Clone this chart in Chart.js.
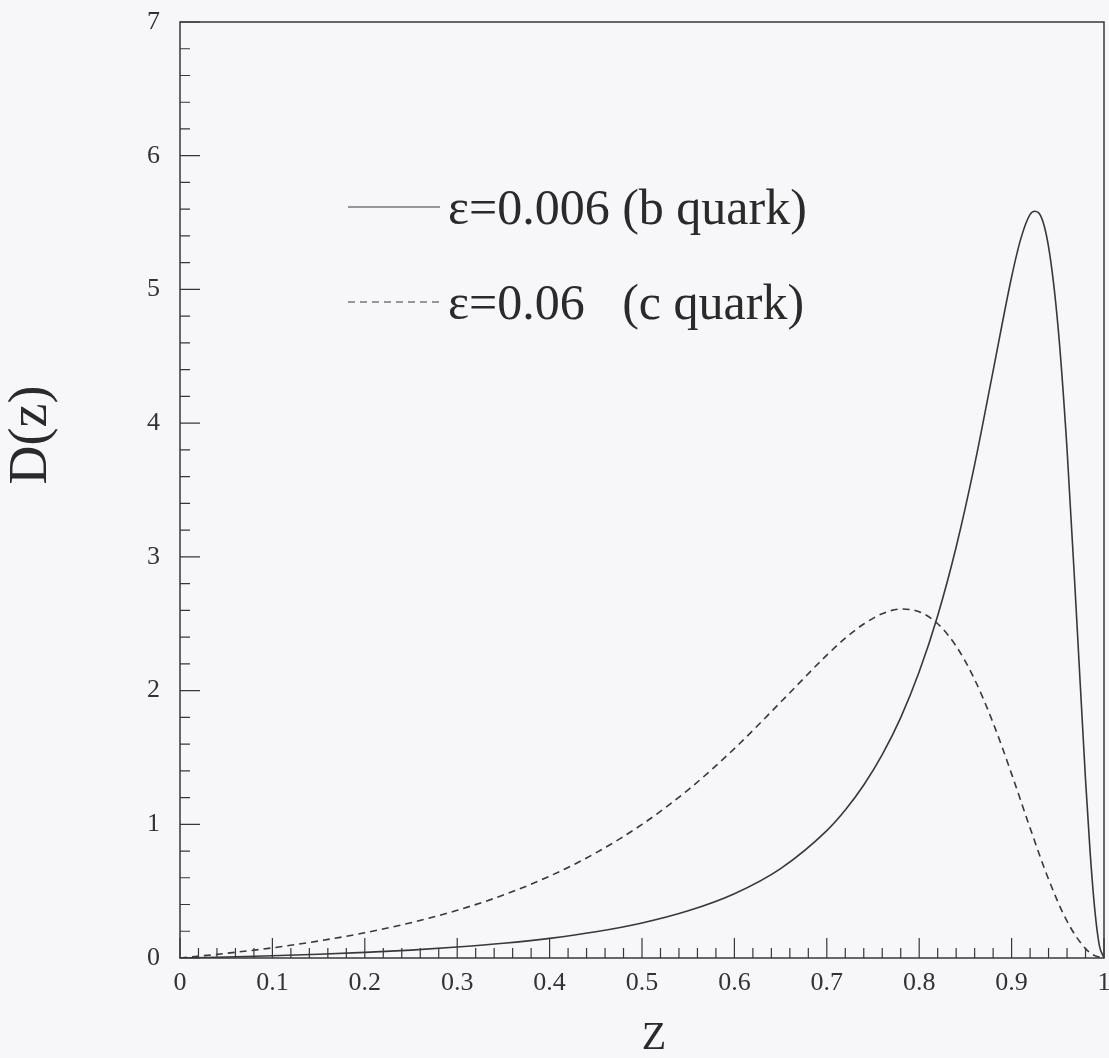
<!DOCTYPE html>
<html lang="en">
<head>
    <meta charset="UTF-8">
    <title>D(z)</title>
    <script src="https://cdn.jsdelivr.net/npm/chart.js"></script>
    <style>
        body {
            margin: 0;
            background-color: #f7f7f9;
        }
        #chart-container {
            width: 1109px;
            height: 1058px;
            position: relative;
        }
    </style>
</head>
<body>
<div id="chart-container">
    <canvas id="dzChart"></canvas>
</div>
<script>
    // b quark, eps = 0.006
    var zB = [0, 0.05, 0.1, 0.15, 0.2, 0.25, 0.3, 0.35, 0.4, 0.45, 0.5, 0.55, 0.6, 0.65, 0.7, 0.72, 0.74, 0.76, 0.78, 0.8,
        0.82, 0.84, 0.86, 0.88, 0.9, 0.91, 0.92, 0.925, 0.93, 0.94, 0.95, 0.96, 0.97, 0.98, 0.985, 0.99, 0.995, 1];
    var dB = [0, 0.007, 0.017, 0.028, 0.042, 0.059, 0.082, 0.110, 0.147, 0.196, 0.262, 0.353, 0.481, 0.669, 0.953, 1.107, 1.294, 1.521, 1.798, 2.140,
        2.560, 3.074, 3.690, 4.391, 5.093, 5.380, 5.561, 5.585, 5.568, 5.319, 4.740, 3.805, 2.594, 1.334, 0.790, 0.364, 0.093, 0];

    // c quark, eps = 0.06
    var zC = [0, 0.05, 0.1, 0.15, 0.2, 0.25, 0.3, 0.35, 0.4, 0.45, 0.5, 0.55, 0.6, 0.65, 0.7, 0.72, 0.74, 0.76, 0.78, 0.8,
        0.82, 0.84, 0.86, 0.88, 0.9, 0.92, 0.94, 0.96, 0.98, 0.99, 1];
    var dC = [0, 0.035, 0.076, 0.127, 0.189, 0.264, 0.357, 0.471, 0.612, 0.786, 0.999, 1.258, 1.566, 1.913, 2.265, 2.392, 2.498, 2.575, 2.610, 2.589,
        2.500, 2.332, 2.083, 1.758, 1.377, 0.972, 0.589, 0.275, 0.070, 0.018, 0];

    var labelB = "\u03b5=0.006 (b quark)";
    var labelC = "\u03b5=0.06   (c quark)";

    var serif = '"Liberation Serif", "DejaVu Serif", serif';
    var ink = "#383838";

    function toPoints(xs, ys) {
        return xs.map(function (x, i) { return {x: x, y: ys[i]}; });
    }

    // frame, inward ticks, axis titles and legend
    var decorations = {
        id: "decorations",
        afterDatasetsDraw: function (chart) {
            var ctx = chart.ctx;
            var a = chart.chartArea;
            var xs = chart.scales.x, ys = chart.scales.y;
            ctx.save();
            ctx.strokeStyle = ink;
            ctx.lineWidth = 1.5;
            ctx.strokeRect(a.left, a.top, a.right - a.left, a.bottom - a.top);

            ctx.lineWidth = 1.2;
            ctx.beginPath();
            for (var i = 0; i <= 50; i++) {
                var px = xs.getPixelForValue(i / 50);
                var len = (i % 5 === 0) ? 20 : 10;
                ctx.moveTo(px, a.bottom);
                ctx.lineTo(px, a.bottom - len);
            }
            for (var j = 0; j <= 35; j++) {
                var py = ys.getPixelForValue(j / 5);
                var l = (j % 5 === 0) ? 20 : 10;
                ctx.moveTo(a.left, py);
                ctx.lineTo(a.left + l, py);
            }
            ctx.stroke();

            // axis titles
            ctx.fillStyle = "#2a2a2a";
            ctx.textAlign = "center";
            ctx.textBaseline = "middle";
            ctx.font = "40px " + serif;
            ctx.fillText("Z", (a.left + a.right) / 2 + 12, 1038);
            ctx.save();
            ctx.translate(32, 435);
            ctx.rotate(-Math.PI / 2);
            ctx.font = "54px " + serif;
            ctx.fillText("D(z)", 0, 0);
            ctx.restore();

            // legend
            var rows = [207, 302];
            ctx.font = "50px " + serif;
            ctx.textAlign = "left";
            chart.data.datasets.forEach(function (ds, k) {
                var y = rows[k];
                ctx.beginPath();
                ctx.setLineDash(ds.borderDash || []);
                ctx.lineWidth = 1.2;
                ctx.moveTo(348, y);
                ctx.lineTo(440, y);
                ctx.stroke();
                ctx.setLineDash([]);
                ctx.fillText(ds.label, 448, y + 4);
            });
            ctx.restore();
        }
    };

    var ctx = document.getElementById("dzChart").getContext("2d");
    var myChart = new Chart(ctx, {
        type: "line",
        data: {
            datasets: [
                {
                    label: labelB,
                    data: toPoints(zB, dB),
                    borderColor: ink,
                    borderWidth: 1.6,
                    pointRadius: 0,
                    cubicInterpolationMode: "monotone",
                    fill: false
                },
                {
                    label: labelC,
                    data: toPoints(zC, dC),
                    borderColor: ink,
                    borderWidth: 1.6,
                    borderDash: [7, 5],
                    pointRadius: 0,
                    cubicInterpolationMode: "monotone",
                    fill: false
                }
            ]
        },
        options: {
            responsive: true,
            maintainAspectRatio: false,
            animation: false,
            layout: {padding: {top: 22, right: 5, left: 0, bottom: 0}},
            plugins: {
                legend: {display: false},
                tooltip: {enabled: false}
            },
            scales: {
                x: {
                    type: "linear",
                    min: 0,
                    max: 1,
                    grid: {display: false, drawTicks: false},
                    border: {display: false},
                    ticks: {
                        stepSize: 0.1,
                        padding: 10,
                        color: "#333",
                        font: {family: serif, size: 26},
                        maxRotation: 0,
                        callback: function (v) { return (v === 0 || v === 1) ? String(v) : v.toFixed(1); }
                    },
                    afterFit: function (scale) {
                        scale.height = 100;
                        scale.paddingLeft = 0;
                        scale.paddingRight = 0;
                    }
                },
                y: {
                    min: 0,
                    max: 7,
                    grid: {display: false, drawTicks: false},
                    border: {display: false},
                    ticks: {
                        stepSize: 1,
                        padding: 20,
                        color: "#333",
                        font: {family: serif, size: 26}
                    },
                    afterFit: function (scale) {
                        scale.width = 180;
                        scale.paddingTop = 0;
                        scale.paddingBottom = 0;
                    }
                }
            }
        },
        plugins: [decorations]
    });
</script>
</body>
</html>
